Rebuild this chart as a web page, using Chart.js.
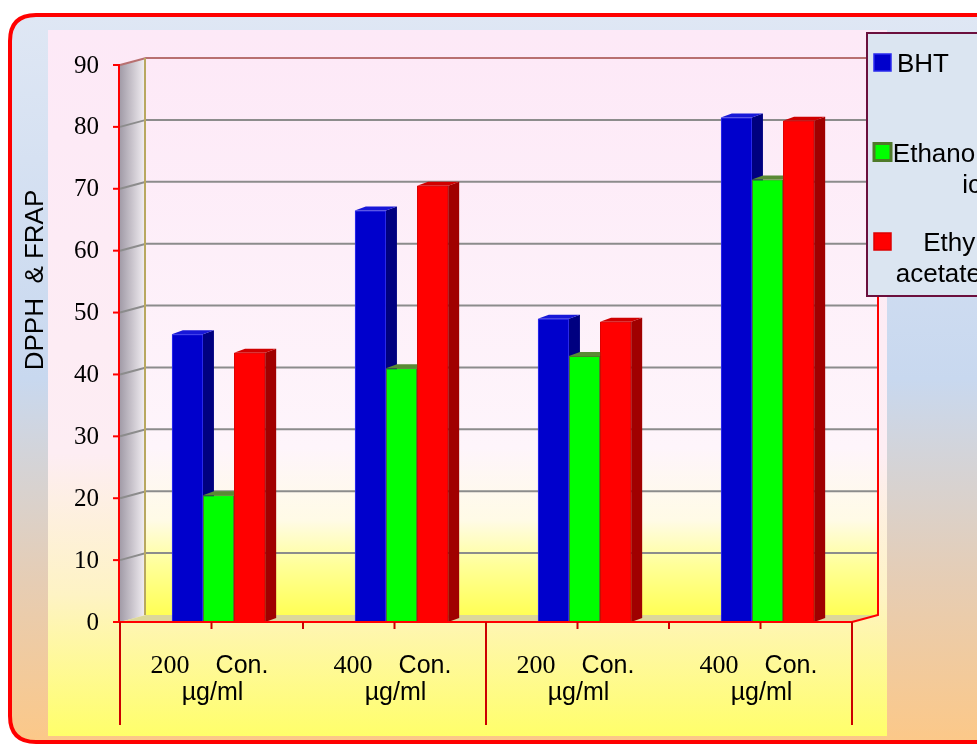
<!DOCTYPE html>
<html>
<head>
<meta charset="utf-8">
<title>DPPH &amp; FRAP</title>
<script src="https://cdn.jsdelivr.net/npm/chart.js@4.4.0/dist/chart.umd.min.js"></script>
<style>
  html, body { margin: 0; padding: 0; background: #fff; }
  #chart { display: block; }
</style>
</head>
<body>
<canvas id="chart" width="977" height="744"></canvas>
<script>
// values
const doses = ['200', '400', '200', '400'];
const doseUnit = 'Con.';
const concUnit = 'µg/ml';
const seriesNames = ['BHT', 'Ethanolic', 'Ethyl acetate'];
const legendLines = [['BHT'], ['Ethanol', 'ic'], ['Ethyl', 'acetate']];
const bhtValues = [46.5, 66.5, 49, 81.5];
const ethanolicValues = [20.5, 41, 43, 71.5];
const ethylAcetateValues = [43.5, 70.5, 48.5, 81];
const yTicks = [0, 10, 20, 30, 40, 50, 60, 70, 80, 90];
const yTitle = 'DPPH  & FRAP';

const SANS = '"Liberation Sans", Arial, sans-serif';
const SERIF = '"Liberation Serif", "Times New Roman", serif';
const DEPTH_X = 26, DEPTH_Y = 7;   // back wall offset
const BAR_DX = 11, BAR_DY = 4;     // bar depth
const FRONT_SHIFT = 7;             // bars stand a bit behind the front plane

const seriesColors = [
  { front: '#0000cc', side: '#000080', top: '#1818d8', border: '#2a2aee' },
  { front: '#00ff00', side: '#2f7a1a', top: '#5a8a35', border: '#4f7a2a' },
  { front: '#ff0000', side: '#a00000', top: '#d00000', border: '#dd0000' }
];

function front(chart) {
  const a = chart.chartArea;
  return { left: a.left - FRONT_SHIFT, right: a.right - FRONT_SHIFT, top: a.top, bottom: a.bottom };
}

function roundRectPath(ctx, x, y, w, h, r) {
  ctx.beginPath();
  ctx.moveTo(x + r, y);
  ctx.lineTo(x + w - r, y);
  ctx.quadraticCurveTo(x + w, y, x + w, y + r);
  ctx.lineTo(x + w, y + h - r);
  ctx.quadraticCurveTo(x + w, y + h, x + w - r, y + h);
  ctx.lineTo(x + r, y + h);
  ctx.quadraticCurveTo(x, y + h, x, y + h - r);
  ctx.lineTo(x, y + r);
  ctx.quadraticCurveTo(x, y, x + r, y);
  ctx.closePath();
}

function poly(ctx, pts, fill) {
  ctx.beginPath();
  ctx.moveTo(pts[0][0], pts[0][1]);
  for (let i = 1; i < pts.length; i++) ctx.lineTo(pts[i][0], pts[i][1]);
  ctx.closePath();
  ctx.fillStyle = fill;
  ctx.fill();
}

const decor = {
  id: 'decor',
  beforeDraw(chart) {
    const ctx = chart.ctx;
    ctx.save();
    ctx.fillStyle = '#fff';
    ctx.fillRect(0, 0, chart.width, chart.height);
    // outer frame
    const g = ctx.createLinearGradient(0, 15, 0, 742);
    g.addColorStop(0, '#dfe7f4');
    g.addColorStop(0.5, '#c8d8ef');
    g.addColorStop(0.78, '#e6cdb4');
    g.addColorStop(1, '#fcc888');
    roundRectPath(ctx, 10, 15, 1000, 727, 26);
    ctx.fillStyle = g;
    ctx.fill();
    ctx.lineWidth = 4;
    ctx.strokeStyle = '#ff0000';
    ctx.stroke();
    // inner panel
    const p = ctx.createLinearGradient(0, 30, 0, 736);
    p.addColorStop(0, '#fde9f7');
    p.addColorStop(0.6, '#fdedf3');
    p.addColorStop(0.8, '#fef3c4');
    p.addColorStop(1, '#ffff6a');
    ctx.fillStyle = p;
    ctx.fillRect(48, 30, 839, 706);
    ctx.restore();
  },
  beforeDatasetsDraw(chart) {
    const ctx = chart.ctx;
    const f = front(chart);
    const y = chart.scales.y;
    ctx.save();
    // back wall
    const w = ctx.createLinearGradient(0, f.top - DEPTH_Y, 0, f.bottom - DEPTH_Y);
    w.addColorStop(0, '#fde9f7');
    w.addColorStop(0.7, '#fef5fb');
    w.addColorStop(0.83, '#fffbe6');
    w.addColorStop(0.91, '#ffff99');
    w.addColorStop(1, '#ffff55');
    ctx.fillStyle = w;
    ctx.fillRect(f.left + DEPTH_X, f.top - DEPTH_Y, f.right - f.left, f.bottom - f.top);
    // side wall
    const s = ctx.createLinearGradient(f.left, 0, f.left + DEPTH_X, 0);
    s.addColorStop(0, '#a29ca8');
    s.addColorStop(1, '#f6f2f6');
    poly(ctx, [[f.left, f.top], [f.left + DEPTH_X, f.top - DEPTH_Y], [f.left + DEPTH_X, f.bottom - DEPTH_Y], [f.left, f.bottom]], s);
    // floor
    poly(ctx, [[f.left, f.bottom], [f.right, f.bottom], [f.right + DEPTH_X, f.bottom - DEPTH_Y], [f.left + DEPTH_X, f.bottom - DEPTH_Y]], '#dcd79a');
    // grid lines
    ctx.lineWidth = 2;
    yTicks.forEach(v => {
      if (v === yTicks[0]) return;
      const py = y.getPixelForValue(v);
      ctx.strokeStyle = v === yTicks[yTicks.length - 1] ? '#b87070' : '#8c8c8c';
      ctx.beginPath();
      ctx.moveTo(f.left, py);
      ctx.lineTo(f.left + DEPTH_X, py - DEPTH_Y);
      ctx.lineTo(f.right + DEPTH_X, py - DEPTH_Y);
      ctx.stroke();
    });
    // back wall edges
    ctx.strokeStyle = '#b8a860';
    ctx.beginPath();
    ctx.moveTo(f.left + DEPTH_X - 1, f.top - DEPTH_Y);
    ctx.lineTo(f.left + DEPTH_X - 1, f.bottom - DEPTH_Y);
    ctx.stroke();
    ctx.strokeStyle = '#ff0000';
    ctx.beginPath();
    ctx.moveTo(f.right + DEPTH_X, f.top - DEPTH_Y);
    ctx.lineTo(f.right + DEPTH_X, f.bottom - DEPTH_Y);
    ctx.lineTo(f.right, f.bottom);
    ctx.stroke();
    ctx.restore();
  },
  afterDatasetsDraw(chart) {
    const ctx = chart.ctx;
    const f = front(chart);
    const y = chart.scales.y;
    const x = chart.scales.x;
    ctx.save();
    // 3D faces, painted series by series so the next front hides the side
    chart.data.datasets.forEach((ds, i) => {
      const c = seriesColors[i];
      chart.getDatasetMeta(i).data.forEach(bar => {
        bar.draw(ctx);
        const p = bar.getProps(['x', 'y', 'base', 'width'], true);
        const l = p.x - p.width / 2, r = p.x + p.width / 2;
        poly(ctx, [[r, p.y], [r + BAR_DX, p.y - BAR_DY], [r + BAR_DX, p.base - BAR_DY], [r, p.base]], c.side);
        poly(ctx, [[l, p.y], [r, p.y], [r + BAR_DX, p.y - BAR_DY], [l + BAR_DX, p.y - BAR_DY]], c.top);
      });
    });
    // axes
    ctx.strokeStyle = '#ff0000';
    ctx.lineWidth = 2;
    ctx.beginPath();
    ctx.moveTo(f.left - 1, f.top);
    ctx.lineTo(f.left - 1, f.bottom);
    ctx.moveTo(f.left - 7, f.bottom);
    ctx.lineTo(f.right, f.bottom);
    ctx.stroke();
    ctx.fillStyle = '#000';
    ctx.font = '25px ' + SERIF;
    ctx.textAlign = 'right';
    ctx.textBaseline = 'middle';
    yTicks.forEach(v => {
      const py = y.getPixelForValue(v);
      ctx.beginPath();
      ctx.moveTo(f.left - 7, py);
      ctx.lineTo(f.left, py);
      ctx.stroke();
      ctx.fillText(String(v), f.left - 21, py + 1);
    });
    // category dividers
    const n = doses.length;
    const cw = (f.right - f.left) / n;
    ctx.strokeStyle = '#cc0000';
    for (let k = 0; k <= n; k++) {
      const bx = f.left + k * cw;
      ctx.beginPath();
      ctx.moveTo(bx, f.bottom);
      ctx.lineTo(bx, f.bottom + (k % 2 === 0 ? 103 : 7));
      ctx.stroke();
    }
    // category labels
    ctx.textBaseline = 'alphabetic';
    doses.forEach((d, i) => {
      const cx = x.getPixelForValue(i) - FRONT_SHIFT;
      ctx.beginPath();
      ctx.moveTo(cx, f.bottom);
      ctx.lineTo(cx, f.bottom + 7);
      ctx.stroke();
      ctx.font = '26px ' + SERIF;
      const w1 = ctx.measureText(d).width;
      ctx.font = '25px ' + SANS;
      const w2 = ctx.measureText(doseUnit).width;
      const gap = 26;
      const start = cx - 2 - (w1 + gap + w2) / 2;
      ctx.textAlign = 'left';
      ctx.font = '26px ' + SERIF;
      ctx.fillText(d, start, f.bottom + 51);
      ctx.font = '25px ' + SANS;
      ctx.fillText(doseUnit, start + w1 + gap, f.bottom + 51);
      ctx.textAlign = 'center';
      ctx.fillText(concUnit, cx + 1, f.bottom + 78);
    });
    // y title
    ctx.save();
    ctx.translate(43, 280);
    ctx.rotate(-Math.PI / 2);
    ctx.font = '26px ' + SANS;
    ctx.textAlign = 'center';
    ctx.fillText(yTitle, 0, 0);
    ctx.restore();
    ctx.restore();
  },
  afterDraw(chart) {
    const ctx = chart.ctx;
    ctx.save();
    ctx.fillStyle = '#dbe5f1';
    ctx.fillRect(867, 33, 140, 263);
    ctx.strokeStyle = '#6b0f3d';
    ctx.lineWidth = 2;
    ctx.strokeRect(867, 33, 140, 263);
    ctx.font = '26px ' + SANS;
    ctx.textBaseline = 'alphabetic';
    legendLines.forEach((lines, i) => {
      const c = seriesColors[i];
      const top = 54 + i * 89.5;
      ctx.fillStyle = c.front;
      ctx.fillRect(874, top, 17, 17);
      ctx.strokeStyle = c.border;
      ctx.lineWidth = i === 1 ? 3 : 1.5;
      ctx.strokeRect(874, top, 17, 17);
      ctx.fillStyle = '#000';
      lines.forEach((txt, k) => {
        const base = top + 18 + k * 31;
        if (lines.length === 1) {
          ctx.textAlign = 'left';
          ctx.fillText(txt, 897, base);
        } else {
          ctx.textAlign = 'right';
          ctx.fillText(txt, 981, base);
        }
      });
    });
    ctx.restore();
  }
};

const seriesValues = [bhtValues, ethanolicValues, ethylAcetateValues];

new Chart(document.getElementById('chart').getContext('2d'), {
  type: 'bar',
  data: {
    labels: doses.map(d => d + ' ' + doseUnit + ' ' + concUnit),
    datasets: seriesNames.map((name, i) => ({
      label: name,
      data: seriesValues[i],
      backgroundColor: seriesColors[i].front,
      borderColor: seriesColors[i].border,
      borderWidth: 1,
      categoryPercentage: 0.51,
      barPercentage: 1.0
    }))
  },
  options: {
    responsive: false,
    animation: false,
    devicePixelRatio: 1,
    layout: { padding: { left: 127, right: 118, top: 65, bottom: 122 } },
    plugins: { legend: { display: false }, tooltip: { enabled: false } },
    scales: {
      x: { display: false },
      y: { display: false, min: yTicks[0], max: yTicks[yTicks.length - 1], ticks: { stepSize: yTicks[1] - yTicks[0] } }
    }
  },
  plugins: [decor]
});
</script>
</body>
</html>
